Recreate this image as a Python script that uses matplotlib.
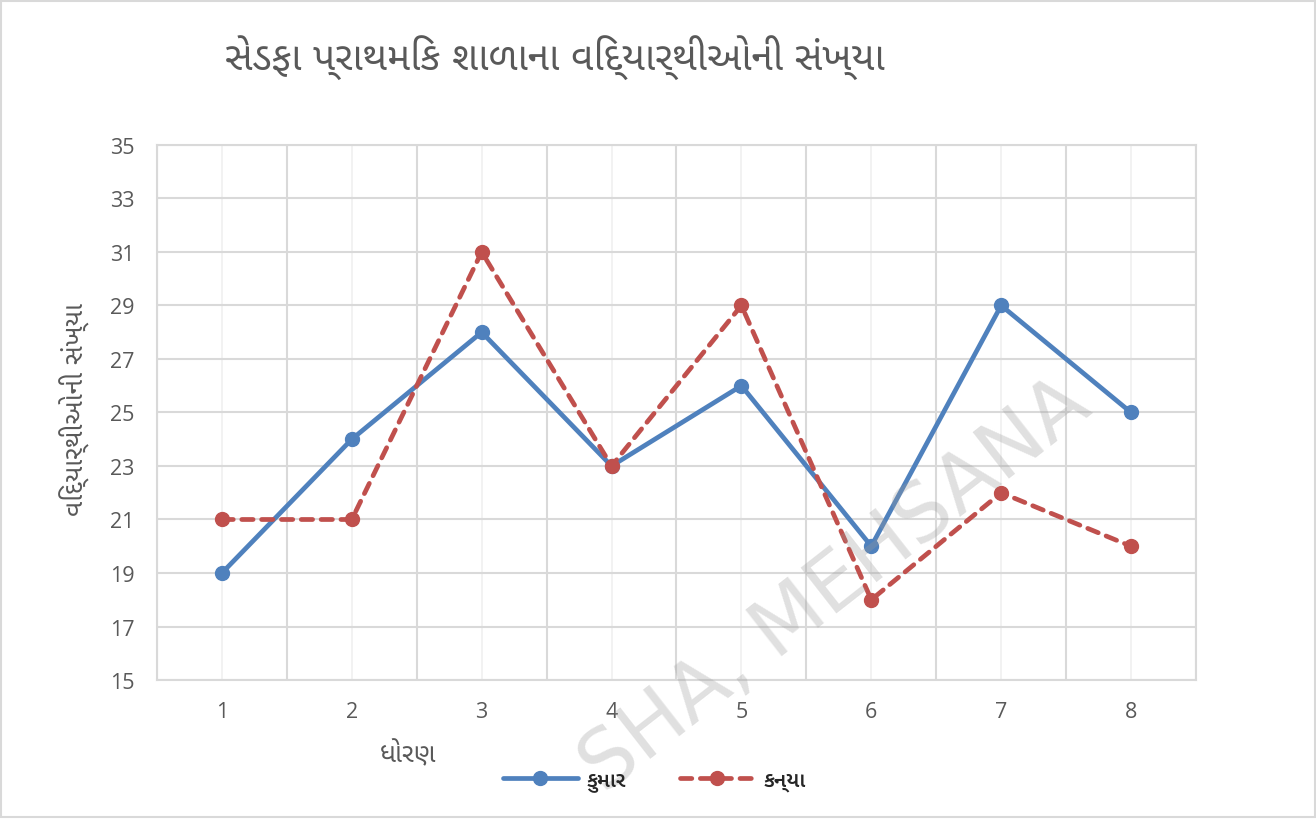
import matplotlib
matplotlib.use('Agg')
import matplotlib.pyplot as plt
from matplotlib.patches import Rectangle

# Data: boys and girls per standard
standards = [1, 2, 3, 4, 5, 6, 7, 8]
boys = [19, 24, 28, 23, 26, 20, 29, 25]
girls = [21, 21, 31, 23, 29, 18, 22, 20]

title = 'સેડફા પ્રાથમિક શાળાના વિદ્યાર્થીઓની સંખ્યા'
ylabel = 'વિદ્યાર્થીઓની સંખ્યા'
xlabel = 'ધોરણ'
names = ['કુમાર', 'કન્યા']

guj = ['Noto Sans Gujarati UI', 'Noto Sans Gujarati', 'DejaVu Sans']
plt.rcParams['font.family'] = ['Open Sans', 'DejaVu Sans']

grey = '#595959'
blue = '#4f81bd'
red = '#c0504d'

fig = plt.figure(figsize=(13.16, 8.2), dpi=100)
ax = fig.add_axes([0.1193, 0.1695, 0.7895, 0.6525])

ax.plot(standards, boys, color=blue, lw=3.4, marker='o', ms=10,
        solid_capstyle='round', label=names[0], zorder=3)
ax.plot(standards, girls, color=red, lw=3.4, marker='o', ms=10,
        ls=(0, (2.4, 1.8)), dash_capstyle='round', label=names[1], zorder=4)

ax.set_xlim(0.5, 8.5)
ax.set_ylim(15, 35)
ax.set_yticks(range(15, 36, 2))
ax.set_xticks(standards)
ax.set_xticks([x + 0.5 for x in range(0, 9)], minor=True)

ax.grid(axis='y', which='major', color='#d9d9d9', lw=1.5)
ax.grid(axis='x', which='major', color='#f0f0f0', lw=1.2)
ax.grid(axis='x', which='minor', color='#d9d9d9', lw=1.5)
ax.set_axisbelow(True)
for s in ax.spines.values():
    s.set_color('#d9d9d9')
    s.set_linewidth(1.5)

ax.tick_params(which='both', length=0)
ax.tick_params(axis='x', pad=15, labelsize=15.5, labelcolor=grey)
ax.tick_params(axis='y', pad=16, labelsize=15.5, labelcolor=grey)

fig.text(0.171, 0.93, title, fontsize=28, color=grey, ha='left', va='center',
         family=guj)
fig.text(0.057, 0.50, ylabel, fontsize=19, color=grey, rotation=90,
         ha='center', va='center', family=guj)
fig.text(0.289, 0.079, xlabel, fontsize=19, color=grey, ha='left',
         va='center', family=guj)

leg = fig.legend(loc='center', bbox_to_anchor=(0.497, 0.047), ncol=2,
                 frameon=False, handlelength=3.6, handletextpad=0.4,
                 columnspacing=2.6,
                 prop={'family': guj, 'size': 15, 'weight': 'semibold'})
for t in leg.get_texts():
    t.set_color('#262626')

# watermark
fig.text(0.635, 0.285, 'SHA, MEHSANA', fontsize=58, color='#9a9a9a',
         alpha=0.3, rotation=38, ha='center', va='center', family='DejaVu Sans')

fig.patches.append(Rectangle((0.001, 0.002), 0.998, 0.996, transform=fig.transFigure,
                             fill=False, edgecolor='#d9d9d9', lw=1.5))

fig.savefig('out.png', dpi=100)
